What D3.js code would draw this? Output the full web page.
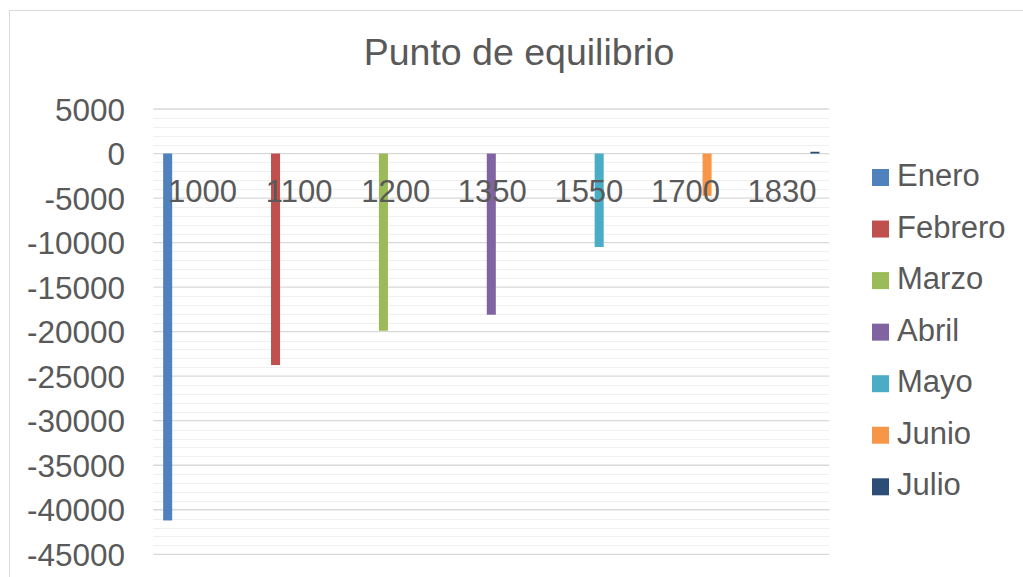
<!DOCTYPE html>
<html>
<head>
<meta charset="utf-8">
<script src="https://d3js.org/d3.v7.min.js"></script>
<style>
  html, body { margin: 0; padding: 0; background: #fff; }
  svg { display: block; }
</style>
</head>
<body>
<svg id="chart" width="1023" height="577"></svg>
<script>
const categories = ["1000", "1100", "1200", "1350", "1550", "1700", "1830"];
const seriesNames = ["Enero", "Febrero", "Marzo", "Abril", "Mayo", "Junio", "Julio"];
const seriesColors = ["#4F81BD", "#C0504D", "#9BBB59", "#8064A2", "#4BACC6", "#F79646", "#2C4D75"];
// each series has a value only in its own category
const enero   = [-41200, 0, 0, 0, 0, 0, 0];
const febrero = [0, -23750, 0, 0, 0, 0, 0];
const marzo   = [0, 0, -19900, 0, 0, 0, 0];
const abril   = [0, 0, 0, -18100, 0, 0, 0];
const mayo    = [0, 0, 0, 0, -10500, 0, 0];
const junio   = [0, 0, 0, 0, 0, -4750, 0];
const julio   = [0, 0, 0, 0, 0, 0, 200];
const yTicks = [5000, 0, -5000, -10000, -15000, -20000, -25000, -30000, -35000, -40000, -45000];
const title = "Punto de equilibrio";

const seriesValues = [enero, febrero, marzo, abril, mayo, junio, julio];

const svg = d3.select("#chart");
const font = "'Liberation Sans', Arial, sans-serif";
const textColor = "#595959";

// chart area border
svg.append("path")
  .attr("d", "M9.5,577 V10.5 H1023")
  .attr("fill", "none")
  .attr("stroke", "#d9d9d9")
  .attr("stroke-width", 1);

const plotLeft = 153.3, plotRight = 829.3, plotTop = 109, plotBottom = 554.3;

const y = d3.scaleLinear().domain([-45000, 5000]).range([plotBottom, plotTop]);
const x0 = d3.scaleBand().domain(categories).range([plotLeft, plotRight]).paddingInner(0).paddingOuter(0);
const x1 = d3.scaleBand().domain(seriesNames).range([0, x0.bandwidth()]).paddingInner(0.2).paddingOuter(0.87);

// minor gridlines
const minorTicks = d3.range(-45000, 5001, 1000).filter(v => v % 5000 !== 0);
svg.append("g").selectAll("line").data(minorTicks).join("line")
  .attr("x1", plotLeft).attr("x2", plotRight)
  .attr("y1", d => Math.round(y(d)) + 0.5).attr("y2", d => Math.round(y(d)) + 0.5)
  .attr("stroke", "#f0f0f0").attr("stroke-width", 1);

// major gridlines
svg.append("g").selectAll("line").data(yTicks).join("line")
  .attr("x1", plotLeft).attr("x2", plotRight)
  .attr("y1", d => y(d)).attr("y2", d => y(d))
  .attr("stroke", "#d9d9d9").attr("stroke-width", 1.3);

// y axis labels
const yAxis = d3.axisLeft(y).tickValues(yTicks).tickSize(0).tickPadding(0).tickFormat(d => String(d));
const gy = svg.append("g").attr("transform", `translate(125,0)`).call(yAxis);
gy.select(".domain").remove();
gy.selectAll("text")
  .attr("fill", textColor)
  .attr("font-family", font)
  .attr("font-size", "31.5px")
  .attr("dy", "0.35em");

// bars
const barData = [];
seriesValues.forEach((vals, si) => {
  vals.forEach((v, ci) => {
    if (v !== 0) barData.push({ cat: categories[ci], series: seriesNames[si], value: v, color: seriesColors[si] });
  });
});
svg.append("g").selectAll("rect").data(barData).join("rect")
  .attr("x", d => x0(d.cat) + x1(d.series))
  .attr("width", x1.bandwidth())
  .attr("y", d => Math.min(y(0), y(d.value)))
  .attr("height", d => Math.abs(y(d.value) - y(0)))
  .attr("fill", d => d.color);

// category labels (next to axis at 0)
const xAxis = d3.axisBottom(x0).tickSize(0).tickPadding(0);
const gx = svg.append("g").attr("transform", `translate(0,${y(0)})`).call(xAxis);
gx.select(".domain").remove();
gx.selectAll("text")
  .attr("fill", textColor)
  .attr("font-family", font)
  .attr("font-size", "31px")
  .attr("y", 0)
  .attr("dy", "48.5px")
  .attr("dx", "1px");

// title
svg.append("text")
  .attr("x", 519).attr("y", 65)
  .attr("text-anchor", "middle")
  .attr("fill", textColor)
  .attr("font-family", font)
  .attr("font-size", "37.5px")
  .text(title);

// legend
const legend = svg.append("g").selectAll("g").data(seriesNames).join("g")
  .attr("transform", (d, i) => `translate(872,${169 + i * 51.55})`);
legend.append("rect")
  .attr("width", 17).attr("height", 17)
  .attr("fill", (d, i) => seriesColors[i]);
legend.append("text")
  .attr("x", 25).attr("y", 17)
  .attr("fill", textColor)
  .attr("font-family", font)
  .attr("font-size", "31px")
  .text(d => d);
</script>
</body>
</html>
